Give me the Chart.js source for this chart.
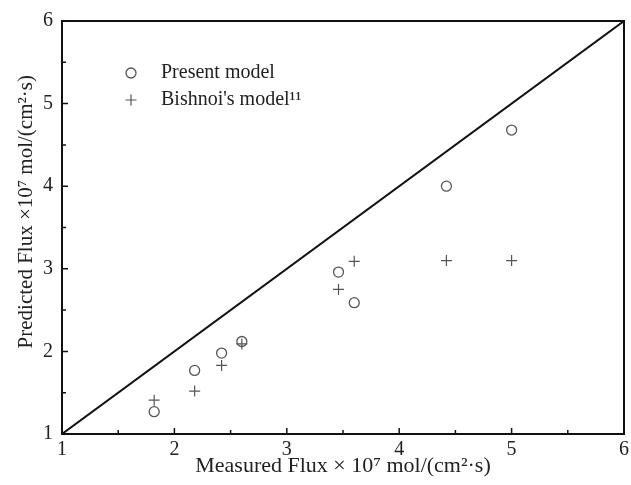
<!DOCTYPE html>
<html>
<head>
<meta charset="utf-8">
<script src="https://cdn.jsdelivr.net/npm/chart.js@4"></script>
<style>
  html, body { margin: 0; padding: 0; background: #fff; }
  #wrap { width: 631px; height: 485px; }
</style>
</head>
<body>
<div id="wrap"><canvas id="fluxChart" width="631" height="485"></canvas></div>
<script>
// measured flux (x) and predictions (y), all x10^7 mol/(cm2 s)
const measured = [1.82, 2.18, 2.42, 2.60, 3.46, 3.60, 4.42, 5.00];
const presentModel = [1.27, 1.77, 1.98, 2.12, 2.96, 2.59, 4.00, 4.68];
const bishnoiModel = [1.41, 1.52, 1.83, 2.09, 2.75, 3.09, 3.10, 3.10];
const parityLine = [1, 6];
const tickValues = [1, 2, 3, 4, 5, 6];

const SERIF = "'Liberation Serif', 'Times New Roman', serif";
const INK = "#222";

function pairs(xs, ys) {
    return xs.map((x, i) => ({ x: x, y: ys[i] }));
}

// box frame + inward ticks
const frame = {
    id: "frame",
    afterDatasetsDraw(chart) {
        const { ctx, chartArea: a, scales } = chart;
        ctx.save();
        ctx.strokeStyle = "#111";
        ctx.lineWidth = 2;
        ctx.strokeRect(a.left, a.top, a.right - a.left, a.bottom - a.top);
        ctx.lineWidth = 1.5;
        for (let v = 1; v <= 6; v += 0.5) {
            const len = Number.isInteger(v) ? 6 : 4;
            const px = scales.x.getPixelForValue(v);
            const py = scales.y.getPixelForValue(v);
            ctx.beginPath();
            ctx.moveTo(px, a.bottom);
            ctx.lineTo(px, a.bottom - len);
            ctx.moveTo(a.left, py);
            ctx.lineTo(a.left + len, py);
            ctx.stroke();
        }
        ctx.restore();
    }
};

// legend drawn inside the plot, top-left
const innerLegend = {
    id: "innerLegend",
    afterDraw(chart) {
        const { ctx, chartArea: a } = chart;
        const items = [chart.data.datasets[1], chart.data.datasets[2]];
        ctx.save();
        ctx.font = "20px " + SERIF;
        ctx.textBaseline = "middle";
        items.forEach((ds, i) => {
            const cx = a.left + 69;
            const cy = a.top + 52 + i * 27;
            ctx.strokeStyle = ds.borderColor;
            ctx.fillStyle = "rgba(0,0,0,0)";
            ctx.lineWidth = ds.borderWidth;
            Chart.helpers.drawPoint(ctx, {
                pointStyle: ds.pointStyle,
                radius: ds.pointRadius,
                borderWidth: ds.borderWidth
            }, cx, cy);
            ctx.fillStyle = INK;
            ctx.fillText(ds.label, a.left + 99, cy);
        });
        ctx.restore();
    }
};

new Chart(document.getElementById("fluxChart"), {
    type: "scatter",
    data: {
        datasets: [
            {
                type: "line",
                label: "y = x",
                data: pairs(parityLine, parityLine),
                borderColor: "#111",
                borderWidth: 2,
                pointRadius: 0,
                fill: false
            },
            {
                label: "Present model",
                data: pairs(measured, presentModel),
                pointStyle: "circle",
                pointRadius: 5,
                borderWidth: 1.3,
                borderColor: "#555",
                backgroundColor: "rgba(0,0,0,0)"
            },
            {
                label: "Bishnoi's model\u00B9\u00B9",
                data: pairs(measured, bishnoiModel),
                pointStyle: "cross",
                pointRadius: 5.5,
                borderWidth: 1.2,
                borderColor: "#555",
                backgroundColor: "rgba(0,0,0,0)"
            }
        ]
    },
    options: {
        responsive: false,
        animation: false,
        layout: { padding: { top: 21, right: 7, left: 0, bottom: 0 } },
        plugins: {
            legend: { display: false },
            tooltip: { enabled: false }
        },
        scales: {
            x: {
                type: "linear",
                min: 1,
                max: 6,
                afterBuildTicks: (s) => { s.ticks = tickValues.map(v => ({ value: v })); },
                afterFit: (s) => { s.height = 51; },
                grid: { display: false },
                border: { display: false },
                ticks: { color: INK, padding: -4, font: { family: SERIF, size: 20 } },
                title: {
                    display: true,
                    text: "Measured Flux \u00D7 10\u2077 mol/(cm\u00B2\u00B7s)",
                    color: INK,
                    padding: { top: 0, bottom: 6 },
                    font: { family: SERIF, size: 22 }
                }
            },
            y: {
                type: "linear",
                min: 1,
                max: 6,
                afterBuildTicks: (s) => { s.ticks = tickValues.map(v => ({ value: v })); },
                afterFit: (s) => { s.width = 62; },
                grid: { display: false },
                border: { display: false },
                ticks: { color: INK, padding: 1, font: { family: SERIF, size: 20 } },
                title: {
                    display: true,
                    text: "\u00A0\u00A0\u00A0\u00A0\u00A0\u00A0Predicted Flux \u00D710\u2077 mol/(cm\u00B2\u00B7s)",
                    color: INK,
                    padding: { top: 14, bottom: 0 },
                    font: { family: SERIF, size: 21 }
                }
            }
        }
    },
    plugins: [frame, innerLegend]
});
</script>
</body>
</html>
